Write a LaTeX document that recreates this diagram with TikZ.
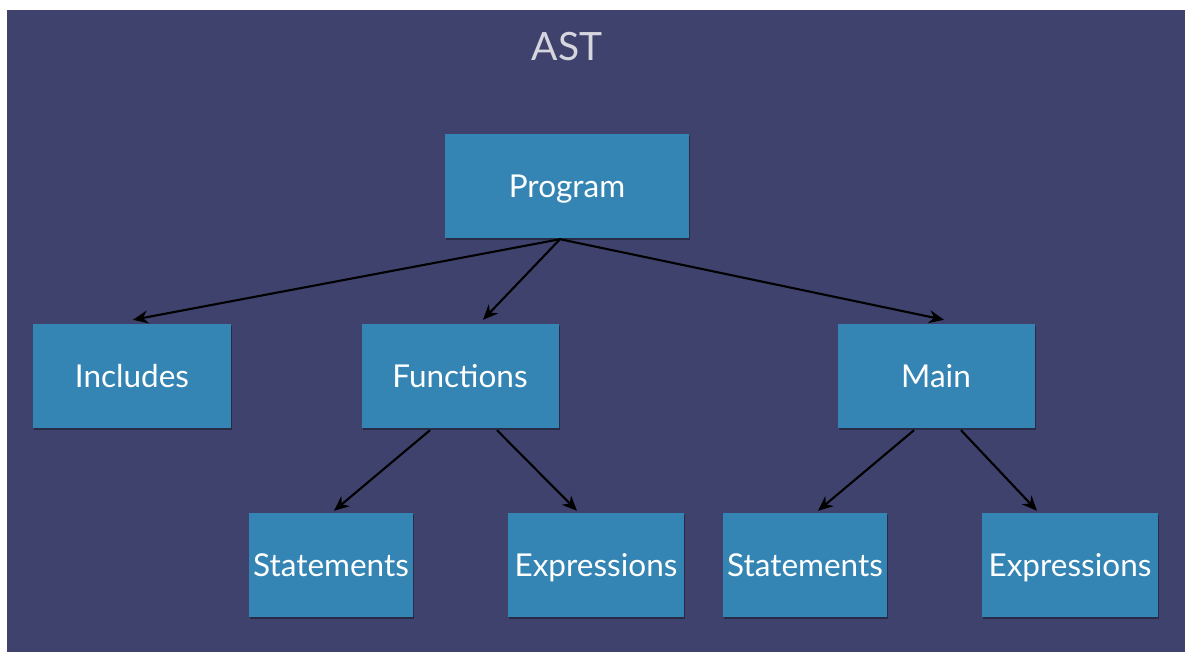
\documentclass[tikz,border=0pt]{standalone}
\usepackage{fontspec}
\setmainfont{Lato}
\usetikzlibrary{shadows,arrows.meta}
\definecolor{slate}{HTML}{3F426D}
\definecolor{boxblue}{HTML}{3484B4}
\definecolor{titlegrey}{HTML}{D6D6DE}
\begin{document}
\begin{tikzpicture}[x=1pt,y=-1pt,
  treebox/.style={fill=boxblue, text=white, minimum height=104pt, inner sep=0pt,
    font=\fontsize{31.5}{32}\selectfont, text height=23pt, text depth=0pt,
    drop shadow={shadow xshift=1pt, shadow yshift=-2pt, opacity=0.35, fill=black}},
  arr/.style={draw=black, line width=2.1pt, -{Stealth[length=15pt,width=13pt]}}]
  % page and slate backdrop
  \useasboundingbox (0,0) rectangle (1185,652);
  \fill[white] (0,0) rectangle (1185,652);
  \fill[slate] (7,10) rectangle (1185,652);
  % title
  \node[text=titlegrey, font=\fontsize{39}{39}\selectfont, text height=29pt, text depth=0pt, inner sep=0pt] (title) at (567,46.5) {AST};
  % boxes
  \node[treebox, minimum width=244pt] (prog) at (567,186) {Program};
  \node[treebox, minimum width=198pt] (inc) at (132,376) {Includes};
  \node[treebox, minimum width=197pt] (fun) at (460,376) {Functions};
  \node[treebox, minimum width=197pt] (main) at (936,376) {Main};
  \node[treebox, minimum width=164pt] (st1) at (331,565) {Statements};
  \node[treebox, minimum width=176pt] (ex1) at (596,565) {Expressions};
  \node[treebox, minimum width=164pt] (st2) at (805,565) {Statements};
  \node[treebox, minimum width=176pt] (ex2) at (1070,565) {Expressions};
  % connectors
  \draw[arr] ([xshift=-7pt,yshift=-1pt]prog.south) -- ([xshift=1pt,yshift=4pt]inc.north);
  \draw[arr] ([xshift=-7pt,yshift=-1pt]prog.south) -- ([xshift=23pt,yshift=4pt]fun.north);
  \draw[arr] ([xshift=-7pt,yshift=-1pt]prog.south) -- ([xshift=8pt,yshift=4pt]main.north);
  \draw[arr] ([xshift=-30pt,yshift=-2pt]fun.south) -- ([xshift=3pt,yshift=2pt]st1.north);
  \draw[arr] ([xshift=37pt,yshift=-2pt]fun.south) -- ([xshift=-19pt,yshift=2pt]ex1.north);
  \draw[arr] ([xshift=-22pt,yshift=-2pt]main.south) -- ([xshift=13pt,yshift=2pt]st2.north);
  \draw[arr] ([xshift=25pt,yshift=-2pt]main.south) -- ([xshift=-33pt,yshift=2pt]ex2.north);
\end{tikzpicture}
\end{document}
